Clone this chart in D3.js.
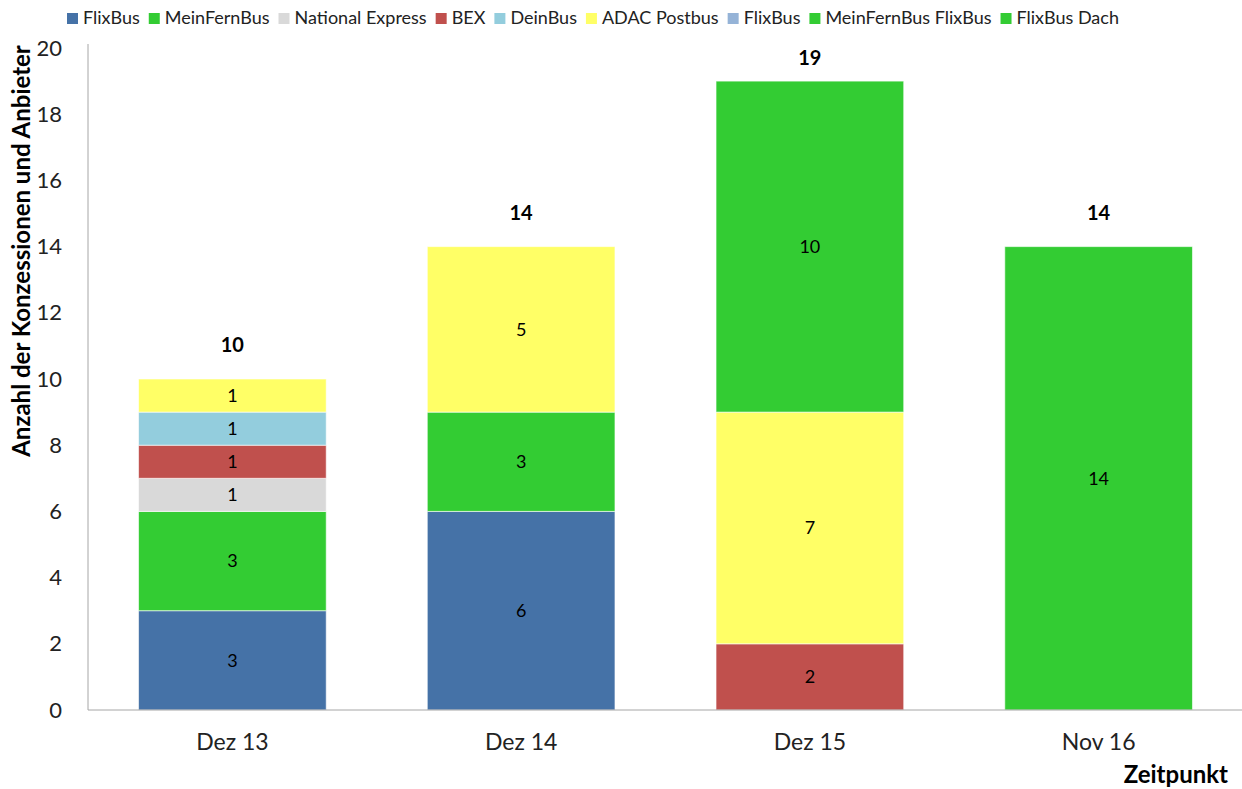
<!DOCTYPE html>
<html>
<head>
<meta charset="utf-8">
<script src="https://cdn.jsdelivr.net/npm/d3@7"></script>
<style>
  body { margin: 0; background: #fff; }
  svg { display: block; font-family: Lato, "Open Sans", sans-serif; }
</style>
</head>
<body>
<svg id="chart" width="1242" height="789"></svg>
<script>
// Daten
const categories = ['Dez 13', 'Dez 14', 'Dez 15', 'Nov 16'];
const seriesNames = ['FlixBus', 'MeinFernBus', 'National Express', 'BEX', 'DeinBus',
  'ADAC Postbus', 'FlixBus', 'MeinFernBus FlixBus', 'FlixBus Dach'];
const seriesColors = ['#4572a7', '#33cc33', '#d9d9d9', '#c0504d', '#93cddd',
  '#ffff66', '#95b3d7', '#33cc33', '#33cc33'];
// Werte je Serie, Reihenfolge wie categories
const seriesValues = [
  [3, 6, 0, 0],
  [3, 3, 0, 0],
  [1, 0, 0, 0],
  [1, 0, 2, 0],
  [1, 0, 0, 0],
  [1, 5, 7, 0],
  [0, 0, 0, 0],
  [0, 0, 10, 0],
  [0, 0, 0, 14]
];
const yTicks = [0, 2, 4, 6, 8, 10, 12, 14, 16, 18, 20];

const svg = d3.select('#chart');
const axisColor = '#a6a6a6';

// Skalen
const x = d3.scaleBand()
  .domain(categories)
  .range([88, 1243])
  .paddingInner(0.35)
  .paddingOuter(0.175);

const y = d3.scaleLinear()
  .domain([0, 20])
  .range([710, 48]);

// Tabelle fuer d3.stack
const keys = seriesNames.map((n, i) => 's' + i);
const table = categories.map((c, j) => {
  const row = { cat: c };
  keys.forEach((k, i) => { row[k] = seriesValues[i][j]; });
  return row;
});
const stacked = d3.stack().keys(keys)(table);

// Balken
const layers = svg.append('g')
  .selectAll('g')
  .data(stacked)
  .join('g')
  .attr('fill', (d, i) => seriesColors[i]);

layers.selectAll('rect')
  .data(d => d.filter(s => s[1] - s[0] > 0))
  .join('rect')
  .attr('x', d => x(d.data.cat))
  .attr('width', x.bandwidth())
  .attr('y', d => y(d[1]))
  .attr('height', d => y(d[0]) - y(d[1]))
  .attr('stroke', '#ffffff')
  .attr('stroke-opacity', 0.6)
  .attr('stroke-width', 1);

// Segmentbeschriftung
layers.selectAll('text')
  .data(d => d.filter(s => s[1] - s[0] > 0))
  .join('text')
  .attr('x', d => x(d.data.cat) + x.bandwidth() / 2)
  .attr('y', d => (y(d[0]) + y(d[1])) / 2)
  .attr('dy', '0.35em')
  .attr('text-anchor', 'middle')
  .attr('font-size', 18)
  .attr('fill', '#000')
  .text(d => d[1] - d[0]);

// Summen
const totals = categories.map((c, j) => d3.sum(seriesValues, s => s[j]));
svg.append('g')
  .selectAll('text')
  .data(totals)
  .join('text')
  .attr('x', (d, j) => x(categories[j]) + x.bandwidth() / 2)
  .attr('y', d => Math.max(y(d) - 34, 58))
  .attr('dy', '0.35em')
  .attr('text-anchor', 'middle')
  .attr('font-size', 20)
  .attr('font-weight', 'bold')
  .attr('fill', '#000')
  .text(d => d);

// Achsen
const yAxis = svg.append('g')
  .attr('transform', 'translate(88,0)')
  .call(d3.axisLeft(y).tickValues(yTicks).tickSize(0).tickPadding(26));
yAxis.select('.domain').attr('stroke', axisColor).attr('d', 'M0,44V710');
yAxis.selectAll('text').attr('font-size', 22).attr('fill', '#222').attr('font-family', 'Lato, sans-serif');

const xAxis = svg.append('g')
  .attr('transform', 'translate(0,710)')
  .call(d3.axisBottom(x).tickSize(0).tickPadding(24));
xAxis.select('.domain').attr('stroke', axisColor).attr('d', 'M88,0H1242');
xAxis.selectAll('text').attr('font-size', 23).attr('fill', '#222').attr('font-family', 'Lato, sans-serif');

// Achsentitel
svg.append('text')
  .attr('transform', 'translate(30,251) rotate(-90)')
  .attr('text-anchor', 'middle')
  .attr('font-size', 24)
  .attr('font-weight', 'bold')
  .text('Anzahl der Konzessionen und Anbieter');

svg.append('text')
  .attr('x', 1228)
  .attr('y', 783)
  .attr('text-anchor', 'end')
  .attr('font-size', 24)
  .attr('font-weight', 'bold')
  .text('Zeitpunkt');

// Legende
const legend = svg.append('g').attr('transform', 'translate(67,18)');
let lx = 0;
seriesNames.forEach((name, i) => {
  const item = legend.append('g').attr('transform', `translate(${lx},0)`);
  item.append('rect')
    .attr('x', 0).attr('y', -5)
    .attr('width', 11).attr('height', 11)
    .attr('fill', seriesColors[i]);
  const t = item.append('text')
    .attr('x', 16).attr('dy', '0.35em')
    .attr('font-size', 18)
    .attr('fill', '#222')
    .text(name);
  lx += 16 + t.node().getComputedTextLength() + 9;
});
</script>
</body>
</html>
